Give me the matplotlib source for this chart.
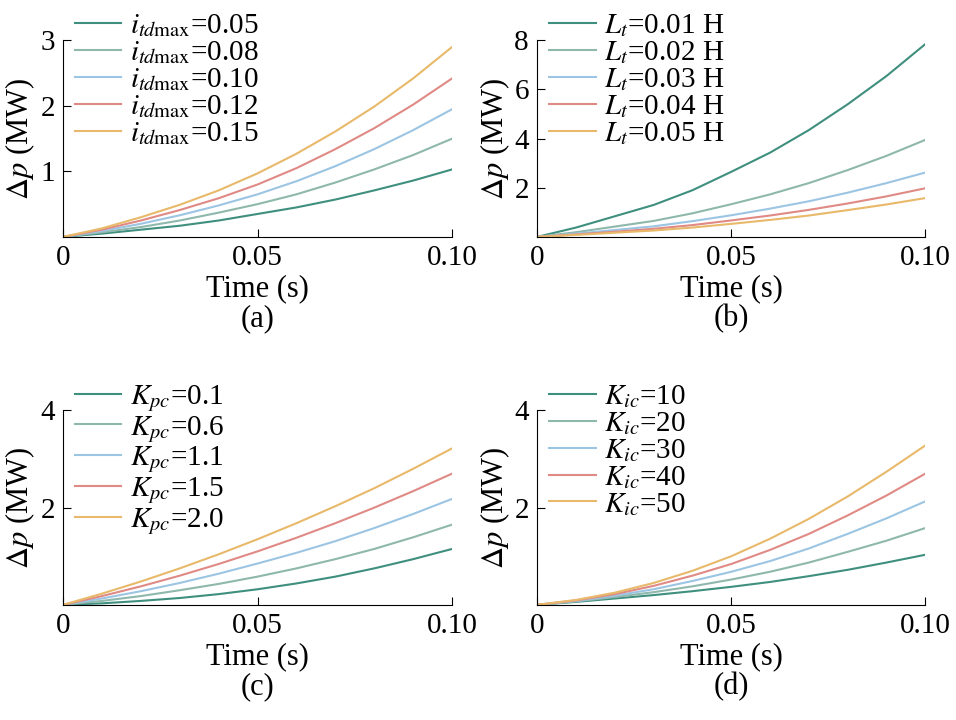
import matplotlib
matplotlib.use('agg')
import matplotlib.pyplot as plt

plt.rcParams['font.family'] = ['Liberation Serif', 'DejaVu Serif']
plt.rcParams['mathtext.fontset'] = 'stix'

time = [0, 0.01, 0.02, 0.03, 0.04, 0.05, 0.06, 0.07, 0.08, 0.09, 0.10]
colors = ['#3f8f7f', '#8fb8ad', '#9cc5e3', '#e08a85', '#e8b96a']

a_labels = [r'$i_{td\mathrm{max}}$=0.05', r'$i_{td\mathrm{max}}$=0.08', r'$i_{td\mathrm{max}}$=0.10',
            r'$i_{td\mathrm{max}}$=0.12', r'$i_{td\mathrm{max}}$=0.15']
a_vals = [
    [0, 0.05, 0.11, 0.17, 0.25, 0.35, 0.45, 0.57, 0.71, 0.86, 1.03],
    [0, 0.07, 0.15, 0.25, 0.37, 0.50, 0.65, 0.83, 1.03, 1.25, 1.50],
    [0, 0.09, 0.20, 0.33, 0.48, 0.65, 0.85, 1.08, 1.34, 1.63, 1.95],
    [0, 0.11, 0.25, 0.41, 0.59, 0.80, 1.05, 1.34, 1.66, 2.02, 2.42],
    [0, 0.13, 0.30, 0.49, 0.71, 0.97, 1.27, 1.61, 1.99, 2.42, 2.90],
]
b_labels = [r'$L_t$=0.01 H', r'$L_t$=0.02 H', r'$L_t$=0.03 H', r'$L_t$=0.04 H', r'$L_t$=0.05 H']
b_vals = [
    [0, 0.38, 0.84, 1.30, 1.90, 2.65, 3.43, 4.35, 5.40, 6.55, 7.85],
    [0, 0.19, 0.42, 0.65, 0.96, 1.33, 1.73, 2.19, 2.72, 3.30, 3.95],
    [0, 0.13, 0.28, 0.43, 0.64, 0.88, 1.15, 1.45, 1.80, 2.19, 2.62],
    [0, 0.10, 0.21, 0.33, 0.48, 0.67, 0.87, 1.10, 1.36, 1.65, 1.98],
    [0, 0.08, 0.17, 0.26, 0.38, 0.53, 0.69, 0.87, 1.09, 1.32, 1.58],
]
c_labels = [r'$K_{pc}$=0.1', r'$K_{pc}$=0.6', r'$K_{pc}$=1.1', r'$K_{pc}$=1.5', r'$K_{pc}$=2.0']
c_vals = [
    [0, 0.03, 0.08, 0.14, 0.22, 0.32, 0.44, 0.58, 0.75, 0.94, 1.15],
    [0, 0.08, 0.18, 0.30, 0.43, 0.58, 0.75, 0.94, 1.15, 1.39, 1.65],
    [0, 0.13, 0.28, 0.45, 0.64, 0.85, 1.07, 1.31, 1.58, 1.87, 2.18],
    [0, 0.18, 0.38, 0.60, 0.84, 1.10, 1.38, 1.68, 2.00, 2.34, 2.70],
    [0, 0.23, 0.48, 0.75, 1.04, 1.35, 1.68, 2.03, 2.40, 2.80, 3.22],
]
d_labels = [r'$K_{ic}$=10', r'$K_{ic}$=20', r'$K_{ic}$=30', r'$K_{ic}$=40', r'$K_{ic}$=50']
d_vals = [
    [0, 0.06, 0.13, 0.20, 0.28, 0.37, 0.47, 0.59, 0.72, 0.87, 1.03],
    [0, 0.07, 0.16, 0.26, 0.38, 0.52, 0.68, 0.87, 1.09, 1.32, 1.58],
    [0, 0.08, 0.19, 0.32, 0.49, 0.68, 0.90, 1.16, 1.46, 1.78, 2.13],
    [0, 0.09, 0.22, 0.39, 0.60, 0.84, 1.13, 1.46, 1.84, 2.25, 2.70],
    [0, 0.10, 0.25, 0.45, 0.70, 1.00, 1.36, 1.77, 2.23, 2.74, 3.28],
]

panels = [
    ([0.066, 0.671, 0.407, 0.273], a_vals, a_labels, 3, [1, 2, 3], '(a)'),
    ([0.562, 0.671, 0.406, 0.273], b_vals, b_labels, 8, [2, 4, 6, 8], '(b)'),
    ([0.066, 0.160, 0.407, 0.270], c_vals, c_labels, 4, [2, 4], '(c)'),
    ([0.562, 0.160, 0.406, 0.270], d_vals, d_labels, 4, [2, 4], '(d)'),
]

fig = plt.figure(figsize=(9.56, 7.2), dpi=100)
for rect, vals, labels, ymax, yt, tag in panels:
    ax = fig.add_axes(rect)
    for v, lab, c in zip(vals, labels, colors):
        ax.plot(time, v, color=c, lw=1.5, label=lab)
    ax.set_xlim(0, 0.1)
    ax.set_ylim(0, ymax)
    ax.set_xticks([0, 0.05, 0.1])
    ax.set_xticklabels(['0', '0.05', '0.10'])
    ax.set_yticks(yt)
    for s in ['top', 'right']:
        ax.spines[s].set_visible(False)
    ax.tick_params(direction='in', labelsize=21, length=6, pad=6)
    ax.set_ylabel(r'$\Delta p$ (MW)', fontsize=22, labelpad=2)
    ax.set_xlabel('Time (s)\n' + tag, fontsize=22, labelpad=2, linespacing=1.05)
    ax.legend(loc='upper left', bbox_to_anchor=(0.0, 1.2), frameon=False, fontsize=21,
              handlelength=1.6, handletextpad=0.3, labelspacing=0.0, borderaxespad=0)

fig.savefig('out.png', dpi=100)
